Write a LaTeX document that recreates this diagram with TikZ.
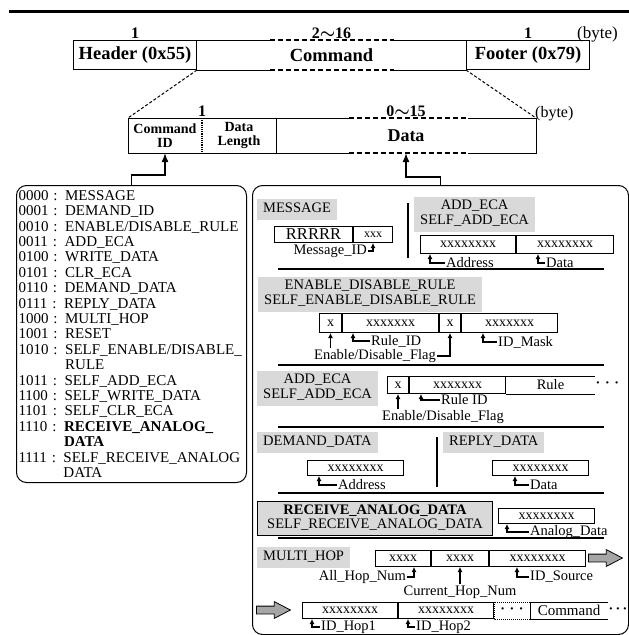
\documentclass[tikz,border=0pt]{standalone}
\usepackage{fontspec}
\setmainfont{Liberation Serif}
\usetikzlibrary{arrows.meta,positioning,calc,shapes.arrows}
\newcommand\fsz[1]{\fontsize{#1pt}{#1pt}\selectfont}
\definecolor{labelgray}{RGB}{217,217,217}
\definecolor{arrowgray}{RGB}{166,166,166}
\tikzset{
  fld/.style={draw, line width=1pt, inner sep=0pt, anchor=north west, font=\fsz{14}},
  glabel/.style={fill=labelgray, inner xsep=6pt, inner ysep=3pt, align=center, anchor=north west,
    font=\fsz{14.5}, execute at begin node=\strut, execute at end node=\strut},
  hint/.style={inner sep=1pt, font=\fsz{14.5}},
  bytes/.style={inner sep=0pt, font=\fsz{16}\bfseries},
  ptr/.style={-{Latex[length=5pt,width=5pt]}, line width=1.2pt},
  bigptr/.style={-{Latex[length=9pt,width=7pt]}, line width=1.5pt},
  hsep/.style={line width=1.8pt},
  vsep/.style={line width=1.1pt},
  zoomline/.style={densely dashed, line width=1pt},
  varpart/.style={dash pattern=on 5pt off 3pt, line width=1.8pt},
  blk/.style={single arrow, draw, line width=0.8pt, fill=arrowgray, minimum height=34pt,
    inner sep=3.5pt, single arrow head extend=4.5pt, single arrow tip angle=55},
  etc/.style={inner sep=0.5pt, font=\fsz{14}\bfseries}
}
\begin{document}
\begin{tikzpicture}[x=1pt, y=-1pt, >=Latex]
  \useasboundingbox (0,0) rectangle (629,635);
  \draw[line width=3pt] (9,11) -- (629,11);

  % packet frame
  \node[fld, minimum width=123pt, minimum height=29pt, font=\fsz{18.5}\bfseries] (hdr) at (73,40) {Header (0x55)};
  \node[fld, draw=none, minimum width=268pt, minimum height=29pt, font=\fsz{18.5}\bfseries] (cmd) at (hdr.north east) {Command};
  \node[fld, minimum width=123pt, minimum height=29pt, font=\fsz{18.5}\bfseries] (ftr) at (cmd.north east) {Footer (0x79)};
  \draw[line width=1pt] (cmd.north west) -- ++(73,0) (cmd.north east) -- ++(-72,0)
    (cmd.south west) -- ++(73,0) (cmd.south east) -- ++(-72,0);
  \draw[varpart] ([xshift=73pt]cmd.north west) -- ([xshift=-72pt]cmd.north east)
    ([xshift=73pt]cmd.south west) -- ([xshift=-72pt]cmd.south east);
  \node[bytes, above=1pt of hdr] (n1) {1};
  \node[bytes, above=1pt of cmd] (n2) {2{\boldmath$\sim$}16};
  \node[bytes, above=1pt of ftr] (n3) {1};
  \node[inner sep=0pt, font=\fsz{17}, anchor=base west] (by1) at (577,38) {(byte)};

  % command field
  \node[fld, draw=none, minimum width=73pt, minimum height=34pt, align=center, font=\fsz{14}\bfseries] (cid) at (128,118) {Command\\ID};
  \node[fld, draw=none, minimum width=73pt, minimum height=34pt, align=center, font=\fsz{14}\bfseries] (dlen) at (cid.north east) {Data\\Length};
  \node[fld, draw=none, minimum width=259pt, minimum height=34pt, font=\fsz{18}\bfseries] (data) at (dlen.north east) {Data};
  \draw[line width=1pt] (cid.north west) rectangle (dlen.south east);
  \draw[densely dotted, line width=1.2pt] (cid.north east) -- (cid.south east);
  \draw[line width=1pt] (data.north west) -- ++(73,0) ([xshift=-68pt]data.north east) -- (data.north east)
    -- (data.south east) -- ++(-68,0) (data.south west) -- ++(73,0);
  \draw[varpart] ([xshift=73pt]data.north west) -- ([xshift=-68pt]data.north east)
    ([xshift=73pt]data.south west) -- ([xshift=-68pt]data.south east);
  \node[bytes, above=1pt of cid.north east] (n4) {1};
  \node[bytes, above=1pt of data] (n5) {0{\boldmath$\sim$}15};
  \node[inner sep=0pt, font=\fsz{16}, anchor=base west] (by2) at (535,117) {(byte)};
  \draw[zoomline] (hdr.south east) -- (cid.north west);
  \draw[zoomline] (ftr.south west) -- (data.north east);

  % command id list
  \node[draw, line width=1pt, rounded corners=10pt, anchor=north west, text width=226pt, minimum height=297pt,
    inner xsep=2pt, align=left, font=\fontsize{15pt}{15.4pt}\selectfont] (codes) at (16,185) {%
    0000 : MESSAGE\\
    0001 : DEMAND\_ID\\
    0010 : ENABLE/DISABLE\_RULE\\
    0011 : ADD\_ECA\\
    0100 : WRITE\_DATA\\
    0101 : CLR\_ECA\\
    0110 : DEMAND\_DATA\\
    0111 : REPLY\_DATA\\
    1000 : MULTI\_HOP\\
    1001 : RESET\\
    1010 : SELF\_ENABLE/DISABLE\_\\
    \hphantom{1010 : }RULE\\
    1011 : SELF\_ADD\_ECA\\
    1100 : SELF\_WRITE\_DATA\\
    1101 : SELF\_CLR\_ECA\\
    1110 : \textbf{RECEIVE\_ANALOG\_}\\
    \hphantom{1110 : }\textbf{DATA}\\
    1111 : SELF\_RECEIVE\_ANALOG\\
    \hphantom{1111 : }DATA};
  \draw[bigptr] (codes.north) -- ++(0,-10) -| (cid.south);

  % data formats
  \node[draw, line width=1pt, rounded corners=10pt, anchor=north west, minimum width=376pt, minimum height=449pt] (panel) at (252,185) {};
  \draw[bigptr] (panel.north) -- ++(0,-8) -| (data.south);

  \node[glabel] (gMsg) at (257,199) {MESSAGE};
  \node[fld, minimum width=78pt, minimum height=16pt, font=\fsz{16.5}] (bR) at (274,226) {RRRRR};
  \node[fld, minimum width=39pt, minimum height=16pt, font=\fsz{12}] (bId) at (bR.north east) {xxx};
  \node[hint, anchor=east] (tMsgId) at (368,251) {Message\_ID};
  \draw[ptr] (tMsgId.east) -| (bId.south);
  \draw[vsep] (408,203) -- (408,258);

  \node[glabel] (gAdd) at (414,197) {ADD\_ECA\\SELF\_ADD\_ECA};
  \node[fld, minimum width=95pt, minimum height=18pt] (bAdr) at (420,235) {xxxxxxxx};
  \node[fld, minimum width=97pt, minimum height=18pt] (bDat) at (bAdr.north east) {xxxxxxxx};
  \node[hint, anchor=west] (tAdr) at (445,263) {Address};
  \node[hint, anchor=west] (tDat) at (545,263) {Data};
  \draw[ptr] (tAdr.west) -| ([xshift=10pt]bAdr.south west);
  \draw[ptr] (tDat.west) -| ([xshift=22pt]bDat.south west);
  \draw[hsep] (278,269) -- (604,269);

  \node[glabel] (gEna) at (258,277) {ENABLE\_DISABLE\_RULE\\SELF\_ENABLE\_DISABLE\_RULE};
  \node[fld, minimum width=22pt, minimum height=19pt] (bF1) at (319,313) {x};
  \node[fld, minimum width=96pt, minimum height=19pt] (bRid) at (bF1.north east) {xxxxxxx};
  \node[fld, minimum width=21pt, minimum height=19pt] (bF2) at (bRid.north east) {x};
  \node[fld, minimum width=96pt, minimum height=19pt] (bMask) at (bF2.north east) {xxxxxxx};
  \node[hint, anchor=west] (tRid) at (370,341) {Rule\_ID};
  \node[hint, anchor=west] (tMask) at (497,342) {ID\_Mask};
  \node[hint] (tFlag) at (375,356) {Enable/Disable\_Flag};
  \draw[ptr] (tRid.west) -| ([xshift=11pt]bRid.south west);
  \draw[ptr] (tMask.west) -| ([xshift=22pt]bMask.south west);
  \draw[ptr] (tFlag.north -| bF1.south) -- (bF1.south);
  \draw[ptr] (tFlag.east) -| (bF2.south);
  \draw[hsep] (278,365) -- (604,365);

  \node[glabel] (gAdd2) at (257,371) {ADD\_ECA\\SELF\_ADD\_ECA};
  \node[fld, minimum width=21pt, minimum height=17pt] (bF3) at (387,376) {x};
  \node[fld, minimum width=96pt, minimum height=17pt] (bRid2) at (bF3.north east) {xxxxxxx};
  \node[fld, draw=none, minimum width=88pt, minimum height=17pt, font=\fsz{14.5}] (bRule) at (bRid2.north east) {Rule};
  \draw[line width=1pt] (bRule.north west) -- (bRule.north east) (bRule.south west) -- (bRule.south east);
  \node[etc, anchor=west] (more1) at (bRule.east) {\textperiodcentered\,\,\textperiodcentered\,\,\textperiodcentered};
  \node[hint, anchor=west] (tRid2) at (440,400) {Rule ID};
  \node[hint] (tFlag2) at (443,417) {Enable/Disable\_Flag};
  \draw[ptr] (tRid2.west) -| ([xshift=12pt]bRid2.south west);
  \draw[ptr] (tFlag2.north -| bF3.south) -- (bF3.south);
  \draw[hsep] (278,427) -- (604,427);

  \node[glabel] (gDem) at (257,432) {DEMAND\_DATA};
  \node[glabel] (gRep) at (443,432) {REPLY\_DATA};
  \draw[vsep] (437,437) -- (437,487);
  \node[fld, minimum width=96pt, minimum height=15pt] (bDem) at (307,460) {xxxxxxxx};
  \node[fld, minimum width=96pt, minimum height=15pt] (bRep) at (492,460) {xxxxxxxx};
  \node[hint, anchor=west] (tDemA) at (337,485) {Address};
  \node[hint, anchor=west] (tRepD) at (529,485) {Data};
  \draw[ptr] (tDemA.west) -| ([xshift=12pt]bDem.south west);
  \draw[ptr] (tRepD.west) -| ([xshift=23pt]bRep.south west);
  \draw[hsep] (278,493) -- (604,493);

  \node[glabel, draw, line width=1pt, minimum width=235pt] (gRecv) at (257,501) {\textbf{RECEIVE\_ANALOG\_DATA}\\SELF\_RECEIVE\_ANALOG\_DATA};
  \node[fld, minimum width=96pt, minimum height=15pt] (bAna) at (498,508) {xxxxxxxx};
  \node[hint, anchor=west] (tAna) at (529,532) {Analog\_Data};
  \draw[ptr] (tAna.west) -| ([xshift=9pt]bAna.south west);
  \draw[hsep] (278,538) -- (604,538);

  \node[glabel] (gHop) at (257,547) {MULTI\_HOP};
  \node[fld, minimum width=55pt, minimum height=16pt] (bAll) at (375,550) {xxxx};
  \node[fld, minimum width=57pt, minimum height=16pt] (bCur) at (bAll.north east) {xxxx};
  \node[fld, minimum width=96pt, minimum height=16pt] (bSrc) at (bCur.north east) {xxxxxxxx};
  \node[blk, anchor=west] (go1) at (588,558) {};
  \node[hint, anchor=east] (tAll) at (407,577) {All\_Hop\_Num};
  \node[hint] (tCur) at (460,592) {Current\_Hop\_Num};
  \node[hint, anchor=west] (tSrc) at (529,577) {ID\_Source};
  \draw[ptr] (tAll.east) -| ([xshift=-17pt]bAll.south east);
  \draw[ptr] (bCur.south |- tCur.north) -- (bCur.south);
  \draw[ptr] (tSrc.west) -| ([xshift=28pt]bSrc.south west);

  \node[blk, anchor=west] (go2) at (256,610) {};
  \node[fld, minimum width=95pt, minimum height=16pt] (bH1) at (302,602) {xxxxxxxx};
  \node[fld, minimum width=95pt, minimum height=16pt] (bH2) at (bH1.north east) {xxxxxxxx};
  \node[fld, draw=none, minimum width=35pt, minimum height=16pt, font=\fsz{14}\bfseries] (bEtc) at (bH2.north east) {\textperiodcentered\,\,\textperiodcentered\,\,\textperiodcentered};
  \draw[densely dotted, line width=1pt] (bEtc.north west) rectangle (bEtc.south east);
  \node[fld, draw=none, minimum width=77pt, minimum height=16pt, font=\fsz{15}] (bCmd) at (bEtc.north east) {Command};
  \draw[line width=1pt] (bCmd.north east) -- (bCmd.north west) -- (bCmd.south west) -- (bCmd.south east);
  \node[etc, anchor=west] (more2) at (bCmd.east) {\textperiodcentered\,\textperiodcentered\,\textperiodcentered};
  \node[hint, anchor=west] (tH1) at (320,627) {ID\_Hop1};
  \node[hint, anchor=west] (tH2) at (415,627) {ID\_Hop2};
  \draw[ptr] (tH1.west) -| ([xshift=10pt]bH1.south west);
  \draw[ptr] (tH2.west) -| ([xshift=10pt]bH2.south west);
\end{tikzpicture}
\end{document}
